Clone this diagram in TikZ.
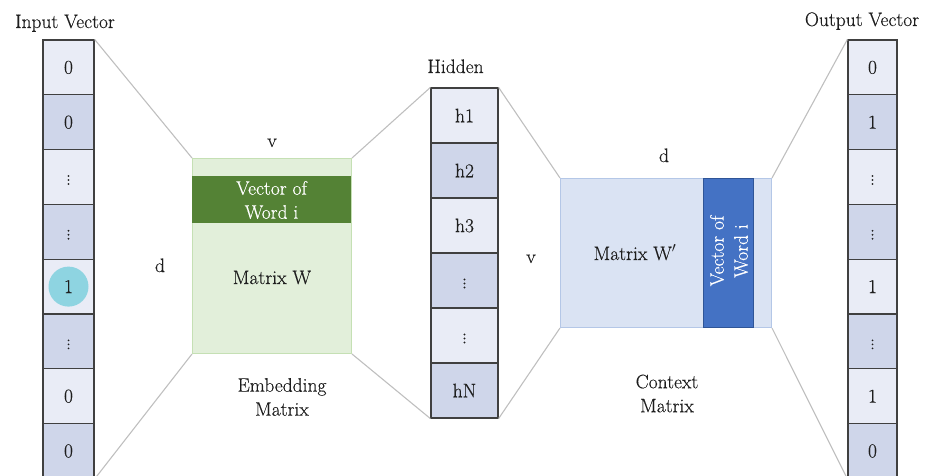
\documentclass[tikz,border=0pt]{standalone}
\usepackage{fontspec}
\setmainfont{Latin Modern Roman}[FakeBold=0.35]
\definecolor{cellL}{HTML}{E9ECF6}
\definecolor{cellD}{HTML}{CFD6EA}
\definecolor{celledge}{HTML}{404040}
\definecolor{hotc}{HTML}{8ED4E1}
\definecolor{embfill}{HTML}{E2EFDA}
\definecolor{embedge}{HTML}{C5E0B4}
\definecolor{embband}{HTML}{548235}
\definecolor{ctxfill}{HTML}{DAE3F3}
\definecolor{ctxedge}{HTML}{B4C7E7}
\definecolor{ctxband}{HTML}{4472C4}
\definecolor{ctxbandedge}{HTML}{2F5597}
\definecolor{conn}{HTML}{BFBFBF}
\definecolor{txt}{HTML}{1E1E1E}
\begin{document}
\begin{tikzpicture}[x=1pt,y=-1pt,
  font=\fontsize{19.5}{24}\selectfont, text=txt,
  cell/.style={draw=celledge, line width=1.2pt, inner sep=0pt, minimum height=54.8},
  hcell/.style={draw=celledge, line width=1.2pt, inner sep=0pt, minimum height=55, minimum width=67},
  cL/.style={fill=cellL},
  cD/.style={fill=cellD},
  conline/.style={draw=conn, line width=1.1pt},
  lbl/.style={inner sep=0pt, anchor=base}]
\useasboundingbox (0,0) rectangle (926,476);
\clip (0,0) rectangle (926,476);

% input vector
\foreach \v/\s [count=\i] in {0/cL,0/cD,{$\vdots$}/cL,{$\vdots$}/cD,{}/cL,{$\vdots$}/cD,0/cL,0/cD}
  \node (in\i) [cell,\s,minimum width=51] at (68.5,{40+54.8*(\i-0.5)}) {\v};
\node (hot) [circle, fill=hotc, inner sep=0pt, minimum size=40] at (in5) {1};
\node (inlbl) [lbl] at (65,28) {Input Vector};

% embedding matrix
\node (emb) [draw=embedge, line width=1pt, fill=embfill, minimum width=159, minimum height=195, anchor=north west, inner sep=0pt] at (192,158) {};
\node (embvec) [fill=embband, minimum width=159, minimum height=47, anchor=north west, inner sep=0pt] at (192,176) {};
\node (embvectxt) [align=center, text=white, inner sep=0pt] at (271.5,200) {Vector of\\Word i};
\node (embname) [lbl] at (272,284) {Matrix W};
\node (embv) [lbl] at (272,147) {v};
\node (embd) [lbl] at (160,272) {d};
\node (embcap) [align=center, inner sep=0pt] at (282,397) {Embedding\\Matrix};

% hidden layer
\foreach \v/\s [count=\i] in {h1/cL,h2/cD,h3/cL,{$\vdots$}/cD,{$\vdots$}/cL,hN/cD}
  \node (h\i) [hcell,\s] at (464.5,{88+55*(\i-0.5)}) {\v};
\node (hlbl) [lbl] at (455.5,73) {Hidden};

% context matrix
\node (ctx) [draw=ctxedge, line width=1pt, fill=ctxfill, minimum width=211, minimum height=149, anchor=north west, inner sep=0pt] at (560,178) {};
\node (ctxvec) [draw=ctxbandedge, line width=1pt, fill=ctxband, minimum width=50, minimum height=149, anchor=north west, inner sep=0pt] at (703,178) {};
\node (ctxvectxt) [rotate=90, align=center, text=white, inner sep=0pt] at (729,251) {Vector of\\Word i};
\node (ctxname) [lbl] at (635,260) {Matrix W$'$};
\node (ctxd) [lbl] at (664,162) {d};
\node (ctxv) [lbl] at (531,263) {v};
\node (ctxcap) [align=center, inner sep=0pt] at (667,393.5) {Context\\Matrix};

% output vector
\foreach \v/\s [count=\i] in {0/cL,1/cD,{$\vdots$}/cL,{$\vdots$}/cD,1/cL,{$\vdots$}/cD,1/cL,0/cD}
  \node (out\i) [cell,\s,minimum width=49] at (872.5,{40+54.8*(\i-0.5)}) {\v};
\node (outlbl) [lbl] at (862,26) {Output Vector};

% connector lines
\draw[conline] (in1.north east) -- (emb.north west);
\draw[conline] (in8.south east) -- (emb.south west);
\draw[conline] (emb.north east) -- (h1.north west);
\draw[conline] (emb.south east) -- (h6.south west);
\draw[conline] (h1.north east) -- (ctx.north west);
\draw[conline] (h6.south east) -- (ctx.south west);
\draw[conline] (ctx.north east) -- (out1.north west);
\draw[conline] (ctx.south east) -- (out8.south west);
\end{tikzpicture}
\end{document}
